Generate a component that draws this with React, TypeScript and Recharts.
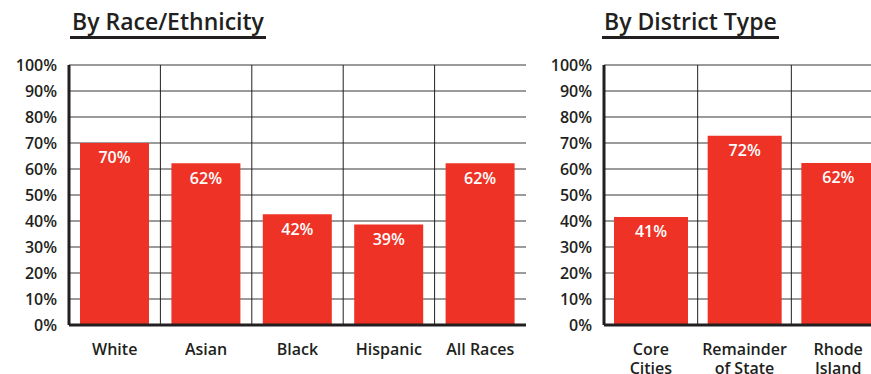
import React from 'react';
import { BarChart, Bar, XAxis, YAxis, CartesianGrid, LabelList } from 'recharts';

const raceCategories = ['White', 'Asian', 'Black', 'Hispanic', 'All Races'];
const raceValues = [70, 62.2, 42.6, 38.7, 62.2];
const raceLabels = ['70%', '62%', '42%', '39%', '62%'];

const districtCategories = ['Core\nCities', 'Remainder\nof State', 'Rhode\nIsland'];
const districtValues = [41.5, 72.8, 62.3];
const districtLabels = ['41%', '72%', '62%'];

const yTicks = [0, 10, 20, 30, 40, 50, 60, 70, 80, 90, 100];

const FONT = '"Open Sans", "Liberation Sans", sans-serif';
const DARK = '#231f20';
const RED = '#ee3326';
const GRID_H = '#7a7a7a';
const GRID_V = '#231f20';

const raceData = raceCategories.map((name, i) => ({ name, value: raceValues[i], label: raceLabels[i] }));
const districtData = districtCategories.map((name, i) => ({ name, value: districtValues[i], label: districtLabels[i] }));

const XTick = (props: any) => {
  const { x, y, payload } = props;
  const lines = String(payload.value).split('\n');
  return (
    <text x={x} y={y} textAnchor="middle" fill={DARK} fontFamily={FONT} fontWeight={600} fontSize={16}>
      {lines.map((l, i) => (
        <tspan key={i} x={x} dy={i === 0 ? 22 : 19}>{l}</tspan>
      ))}
    </text>
  );
};

const Panel = (p: { data: any[]; width: number; yAxisWidth: number; right: number; barSize: number }) => {
  const n = p.data.length;
  return (
    <BarChart
      width={p.width}
      height={374}
      data={p.data}
      margin={{ top: 65, right: p.right, bottom: 0, left: 0 }}
    >
      <CartesianGrid
        stroke={GRID_H}
        strokeWidth={1.5}
        vertical={false}
      />
      <CartesianGrid
        stroke={GRID_V}
        strokeWidth={1}
        horizontal={false}
        verticalCoordinatesGenerator={({ offset }: any) =>
          p.data.slice(1).map((_, i) => offset.left + ((i + 1) * offset.width) / n)
        }
      />
      <XAxis
        dataKey="name"
        height={49}
        tickLine={false}
        tick={<XTick />}
        interval={0}
        axisLine={{ stroke: DARK, strokeWidth: 3 }}
      />
      <XAxis
        xAxisId="top"
        dataKey="name"
        orientation="top"
        height={0}
        tick={false}
        tickLine={false}
        axisLine={{ stroke: DARK, strokeWidth: 3 }}
      />
      <YAxis
        domain={[0, 100]}
        ticks={yTicks}
        width={p.yAxisWidth}
        interval={0}
        tickLine={false}
        tickSize={6}
        tickMargin={6}
        tickFormatter={(v: number) => `${v}%`}
        tick={{ fill: DARK, fontFamily: FONT, fontWeight: 600, fontSize: 16 }}
        axisLine={{ stroke: DARK, strokeWidth: 3 }}
      />
      <YAxis
        yAxisId="right"
        orientation="right"
        domain={[0, 100]}
        width={0}
        tick={false}
        tickLine={false}
        axisLine={{ stroke: DARK, strokeWidth: 3 }}
      />
      <Bar dataKey="value" fill={RED} barSize={p.barSize} isAnimationActive={false}>
        <LabelList
          dataKey="label"
          position="insideTop"
          offset={9}
          fill="#ffffff"
          fontFamily={FONT}
          fontWeight={600}
          fontSize={16}
        />
      </Bar>
    </BarChart>
  );
};

const titleStyle = (left: number): React.CSSProperties => ({
  position: 'absolute',
  left,
  top: 6,
  fontFamily: FONT,
  fontWeight: 600,
  fontSize: 23,
  lineHeight: '30px',
  color: DARK,
  padding: '0 2px',
  borderBottom: `3px solid ${DARK}`,
  whiteSpace: 'nowrap',
});

export default function App() {
  return (
    <div
      style={{
        position: 'fixed',
        left: 0,
        top: 0,
        width: 871,
        height: 374,
        overflow: 'hidden',
        background: '#ffffff',
      }}
    >
      <div style={titleStyle(70)}>By Race/Ethnicity</div>
      <div style={titleStyle(602)}>By District Type</div>
      <div style={{ position: 'absolute', left: 0, top: 0 }}>
        <Panel data={raceData} width={540} yAxisWidth={69} right={14} barSize={69} />
      </div>
      <div style={{ position: 'absolute', left: 540, top: 0 }}>
        <Panel data={districtData} width={360} yAxisWidth={64} right={15} barSize={74} />
      </div>
    </div>
  );
}
